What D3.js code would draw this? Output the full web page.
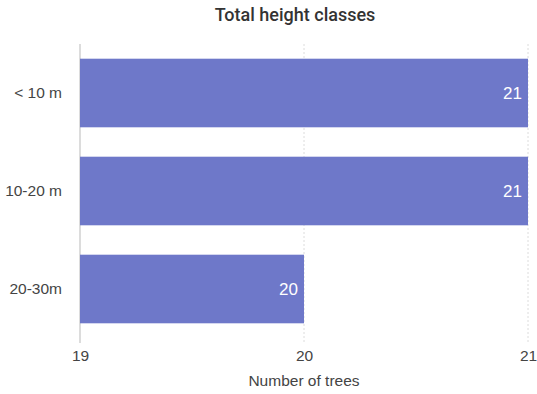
<!DOCTYPE html>
<html>
<head>
<meta charset="utf-8">
<script src="https://cdn.jsdelivr.net/npm/d3@7"></script>
<style>
  html, body { margin: 0; padding: 0; background: #fff; }
  svg { display: block; font-family: "Helvetica Neue", Helvetica, Arial, "Liberation Sans", sans-serif; }
</style>
</head>
<body>
<svg id="chart" width="537" height="394"></svg>
<script>
const categories = ["< 10 m", "10-20 m", "20-30m"];
const values = [21, 21, 20];
const xTicks = [19, 20, 21];
const title = "Total height classes";
const xTitle = "Number of trees";

const svg = d3.select("#chart");
const margin = { left: 80, right: 9, top: 44, bottom: 56 };
const W = 537, H = 394;

const x = d3.scaleLinear().domain([19, 21]).range([margin.left, W - margin.right]);
const y = d3.scaleBand().domain(categories).range([margin.top, H - margin.bottom])
  .paddingInner(0.3).paddingOuter(0.15);

// title
svg.append("text").attr("x", 295).attr("y", 21).attr("text-anchor", "middle")
  .style("font-family", "Roboto, 'Liberation Sans', sans-serif")
  .attr("font-size", 18).attr("font-weight", 500).attr("fill", "#333").text(title);

// gridlines
const grid = svg.append("g");
grid.selectAll("line").data(xTicks).join("line")
  .attr("x1", d => x(d)).attr("x2", d => x(d))
  .attr("y1", margin.top).attr("y2", H - margin.bottom + 5)
  .attr("stroke", d => d === 19 ? "#d0d0d0" : "#dcdcdc")
  .attr("stroke-width", d => d === 19 ? 1.5 : 1)
  .attr("stroke-dasharray", d => d === 19 ? null : "2,2");

// bars
svg.append("g").selectAll("rect").data(categories).join("rect")
  .attr("x", x(19)).attr("y", d => y(d))
  .attr("width", (d, i) => x(values[i]) - x(19))
  .attr("height", y.bandwidth())
  .attr("fill", "#6e78c9");

// value labels
svg.append("g").selectAll("text").data(categories).join("text")
  .attr("x", (d, i) => x(values[i]) - 6)
  .attr("y", d => y(d) + y.bandwidth() / 2)
  .attr("dy", "0.35em").attr("text-anchor", "end")
  .attr("font-size", 17).attr("fill", "#fff").text((d, i) => values[i]);

// y axis labels
const yAxis = d3.axisLeft(y).tickSize(0).tickPadding(18);
const gy = svg.append("g").attr("transform", `translate(${margin.left},0)`).call(yAxis);
gy.select(".domain").remove();
gy.selectAll("text").attr("font-size", 15.5).attr("fill", "#444").style("font-family", "inherit");

// x axis labels
const xAxis = d3.axisBottom(x).tickValues(xTicks).tickFormat(d3.format("d")).tickSize(0).tickPadding(12);
const gx = svg.append("g").attr("transform", `translate(0,${H - margin.bottom})`).call(xAxis);
gx.select(".domain").remove();
gx.selectAll("text").attr("font-size", 15.5).attr("fill", "#444").style("font-family", "inherit");

// x axis title
svg.append("text").attr("x", x(20)).attr("y", 386).attr("text-anchor", "middle")
  .attr("font-size", 15.5).attr("fill", "#444").text(xTitle);
</script>
</body>
</html>
